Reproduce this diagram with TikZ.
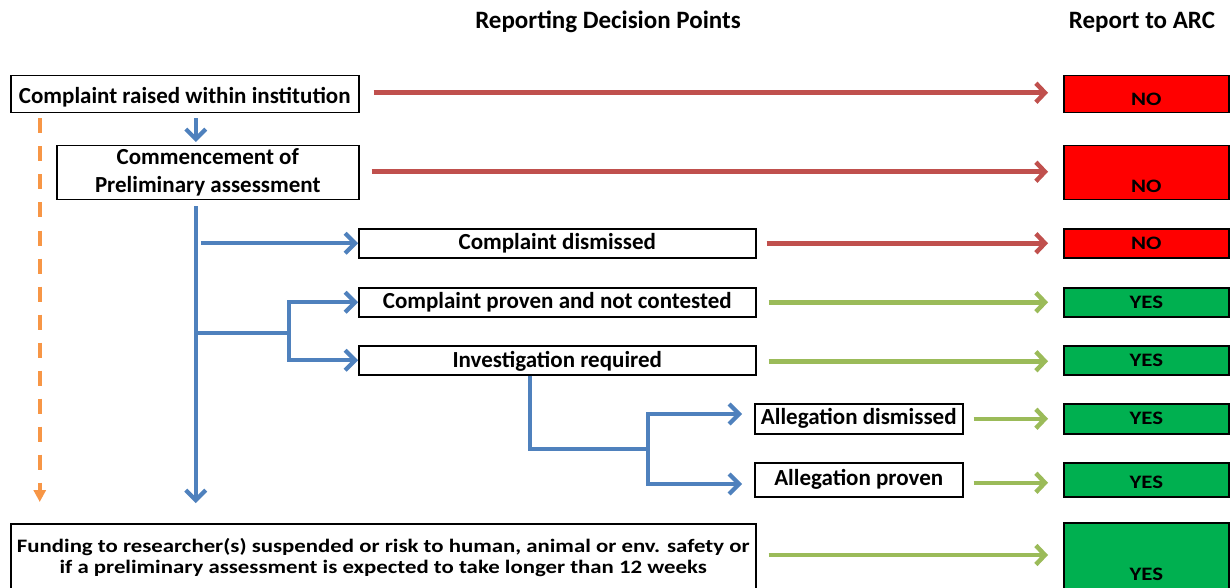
\documentclass[tikz,border=0pt]{standalone}
\usepackage{fontspec}
\setmainfont{Carlito}
\newfontfamily\widefont{Carlito}[FakeStretch=1.2]
\usetikzlibrary{arrows.meta,calc}
\definecolor{arred}{HTML}{C0504D}
\definecolor{argreen}{HTML}{9BBB59}
\definecolor{arblue}{HTML}{4F81BD}
\definecolor{arorange}{HTML}{F79646}
\definecolor{boxgreen}{HTML}{00B050}
\definecolor{boxred}{HTML}{FF0000}
\tikzset{
  bigfont/.style={font=\fontsize{23}{28}\selectfont\bfseries},
  titlefont/.style={font=\fontsize{25}{30}\selectfont\bfseries},
  smallfont/.style={font=\widefont\fontsize{19}{21}\selectfont\bfseries},
  stepbox/.style={draw=black, line width=1.5pt, fill=white, inner sep=0pt, anchor=north west, bigfont, align=center},
  nobox/.style={draw=black, line width=1.5pt, fill=boxred, inner sep=0pt, anchor=north west, minimum width=165pt, smallfont},
  yesbox/.style={draw=black, line width=1.5pt, fill=boxgreen, inner sep=0pt, anchor=north west, minimum width=165pt, smallfont},
  boxtext/.style={smallfont, inner sep=0pt},
  title/.style={titlefont},
  redarr/.style={draw=arred, line width=4.5pt, -{Straight Barb[length=9pt,width=19pt]}},
  greenarr/.style={draw=argreen, line width=4.5pt, -{Straight Barb[length=9pt,width=19pt]}},
  bluearr/.style={draw=arblue, line width=4.2pt, line join=miter, -{Straight Barb[length=10pt,width=20pt]}},
  blueline/.style={draw=arblue, line width=4.2pt, line join=miter},
  orangearr/.style={draw=arorange, line width=3.5pt, dash pattern=on 15pt off 13pt, -{Triangle[length=12pt,width=12pt]}},
}
\begin{document}
\begin{tikzpicture}[x=1pt,y=-1pt]
\useasboundingbox (0,0) rectangle (1231,588);
% titles
\node[title] (t1) at (608,22) {Reporting Decision Points};
\node[title] (t2) at (1142,22) {Report to ARC};
% left / middle boxes
\node[stepbox, minimum width=348pt, minimum height=37pt, text height=25pt, text depth=6pt] (A) at (10,75) {Complaint raised within institution};
\node[stepbox, minimum width=302pt, minimum height=54pt] (B) at (56,145) {Commencement of\\Preliminary assessment};
\node[stepbox, minimum width=397pt, minimum height=29pt] (C) at (358,228) {Complaint dismissed};
\node[stepbox, minimum width=397pt, minimum height=29pt] (D) at (358,287) {Complaint proven and not contested};
\node[stepbox, minimum width=397pt, minimum height=29pt, text height=20pt, text depth=5pt] (E) at (358,345) {Investigation required};
\node[stepbox, minimum width=208pt, minimum height=30pt] (F) at (754,403) {Allegation dismissed};
\node[stepbox, minimum width=208pt, minimum height=34pt] (G) at (754,462) {Allegation proven};
\node[stepbox, minimum width=745pt, minimum height=67pt, smallfont] (H) at (10,523) {Funding to researcher(s) suspended or risk to human, animal or env. safety or\\if a preliminary assessment is expected to take longer than 12 weeks};
% right boxes
\node[nobox, minimum height=37pt] (n1) at (1063,75) {};
\node[boxtext] (n1t) at ($(n1.center)+(0,5)$) {NO};
\node[nobox, minimum height=54pt] (n2) at (1063,145) {};
\node[boxtext] (n2t) at ($(n2.south)+(0,-14)$) {NO};
\node[nobox, minimum height=29pt] (n3) at (1063,228) {NO};
\node[yesbox, minimum height=29pt] (y1) at (1063,287) {YES};
\node[yesbox, minimum height=29pt] (y2) at (1063,345) {YES};
\node[yesbox, minimum height=30pt] (y3) at (1063,403) {YES};
\node[yesbox, minimum height=34pt] (y4) at (1063,462) {};
\node[boxtext] (y4t) at ($(y4.center)+(0,3)$) {YES};
\node[yesbox, minimum height=67pt] (y5) at (1063,522) {};
\node[boxtext] (y5t) at ($(y5.south)+(0,-16)$) {YES};
% red arrows
\draw[redarr] ([xshift=14pt,yshift=1.5pt]A.east) -- ([xshift=-15pt,yshift=1.5pt]n1.west);
\draw[redarr] ([xshift=12pt,yshift=1pt]B.east) -- ([xshift=-15pt,yshift=1pt]n2.west);
\draw[redarr] ([xshift=10pt]C.east) -- ([xshift=-15pt]n3.west);
% green arrows
\draw[greenarr] ([xshift=12pt]D.east) -- ([xshift=-15pt]y1.west);
\draw[greenarr] ([xshift=12pt,yshift=-1pt]E.east) -- ([xshift=-15pt,yshift=-1pt]y2.west);
\draw[greenarr] ([xshift=10pt]F.east) -- ([xshift=-15pt]y3.west);
\draw[greenarr] ([xshift=10pt,yshift=-3pt]G.east) -- ([xshift=-15pt,yshift=-3pt]y4.west);
\draw[greenarr] ([xshift=12pt]H.east |- 0,555) -- ([xshift=-15pt]y5.west |- 0,555);
% blue flow
\draw[bluearr, shorten <=5pt, shorten >=3pt] ([xshift=11pt]A.south) -- ([xshift=-12pt]B.north);
\coordinate (t) at ([xshift=-12pt]B.south);
\draw[bluearr, shorten <=6pt, shorten >=20pt] (t) -- (t |- H.north);
\draw[bluearr] ([xshift=5pt]t |- C.west) -- (C.west);
\coordinate (j1) at (289,333);
\draw[blueline] (t |- j1) -- (j1);
\draw[bluearr] (j1) -- (j1 |- D.west) -- (D.west);
\draw[bluearr] (j1) -- (j1 |- E.west) -- (E.west);
\coordinate (e1) at (530,449);
\coordinate (j2) at (648,449);
\coordinate (f1) at (648,414);
\coordinate (g1) at (648,484);
\draw[blueline] (e1 |- E.south) -- (e1) -- (j2);
\draw[bluearr, shorten >=12pt] (j2) -- (f1) -- (f1 -| F.west);
\draw[bluearr, shorten >=12pt] (j2) -- (g1) -- (g1 -| G.west);
% orange dashed
\draw[orangearr, shorten <=5pt, shorten >=21pt] ([xshift=-145pt]A.south) -- ([xshift=-145pt]A.south |- H.north);
\end{tikzpicture}
\end{document}
